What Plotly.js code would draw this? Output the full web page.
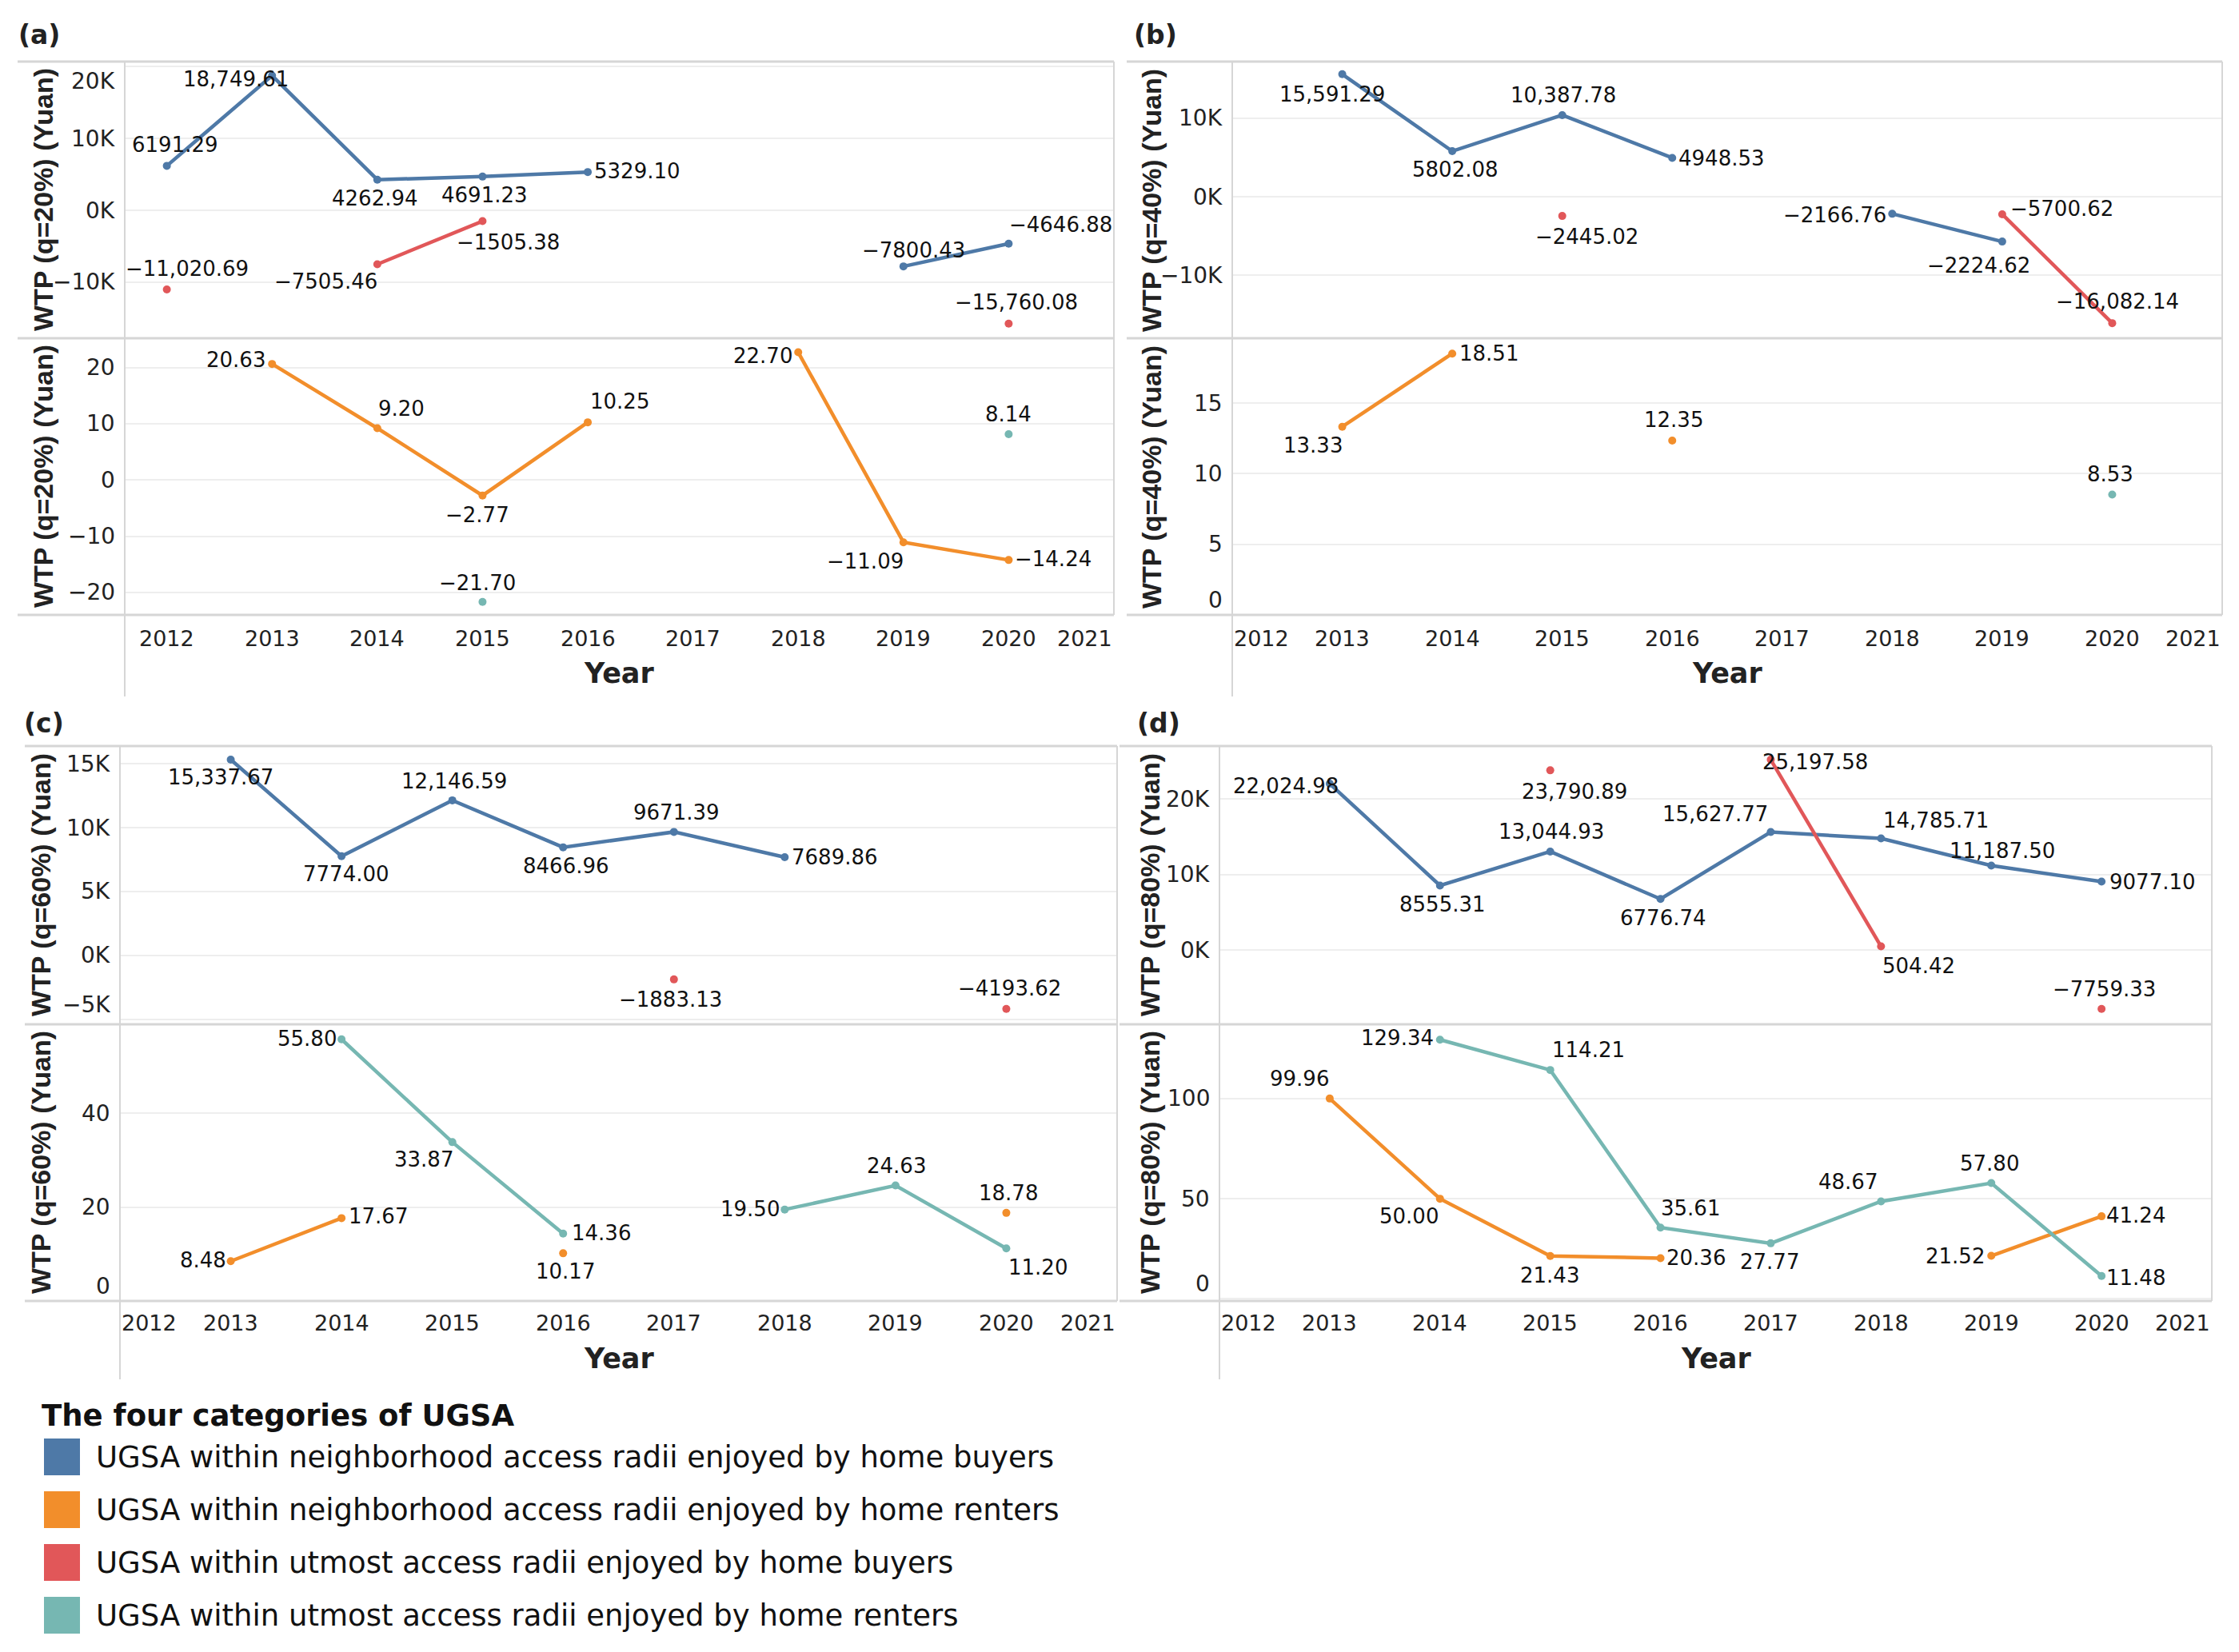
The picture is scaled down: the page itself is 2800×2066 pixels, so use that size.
<!DOCTYPE html>
<html><head><meta charset="utf-8">
<script src="https://cdn.plot.ly/plotly-3.0.1.min.js"></script>
<style>html,body{margin:0;padding:0;background:#fff}#chart{width:2800px;height:2066px}</style>
</head><body><div id="chart"></div>
<script>
// ---------------- DATA ----------------
const years = [2012, 2013, 2014, 2015, 2016, 2017, 2018, 2019, 2020];
const xTickYears = [2012, 2013, 2014, 2015, 2016, 2017, 2018, 2019, 2020, 2021];
const xTickLabels = ['2012', '2013', '2014', '2015', '2016', '2017', '2018', '2019', '2020', '2021'];

const seriesNames = [
  'UGSA within neighborhood access radii enjoyed by home buyers',
  'UGSA within neighborhood access radii enjoyed by home renters',
  'UGSA within utmost access radii enjoyed by home buyers',
  'UGSA within utmost access radii enjoyed by home renters'
];
const legendTitle = 'The four categories of UGSA';

// (a) q=20%
const a_nbBuyers  = [6191.29, 18749.61, 4262.94, 4691.23, 5329.10, null, null, -7800.43, -4646.88];
const a_utBuyers  = [-11020.69, null, -7505.46, -1505.38, null, null, null, null, -15760.08];
const a_nbRenters = [null, 20.63, 9.20, -2.77, 10.25, null, 22.70, -11.09, -14.24];
const a_utRenters = [null, null, null, -21.70, null, null, null, null, 8.14];

// (b) q=40%
const b_nbBuyers  = [null, 15591.29, 5802.08, 10387.78, 4948.53, null, -2166.76, -5700.62, null];
const b_nbBuyersLabels = ['', '15,591.29', '5802.08', '10,387.78', '4948.53', '', '\u22122166.76', '\u22122224.62', ''];
const b_utBuyers  = [null, null, null, -2445.02, null, null, null, -2224.62, -16082.14];
const b_utBuyersLabels = ['', '', '', '\u22122445.02', '', '', '', '\u22125700.62', '\u221216,082.14'];
const b_nbRenters = [null, 13.33, 18.51, null, 12.35, null, null, null, null];
const b_utRenters = [null, null, null, null, null, null, null, null, 8.53];

// (c) q=60%
const c_nbBuyers  = [null, 15337.67, 7774.00, 12146.59, 8466.96, 9671.39, 7689.86, null, null];
const c_utBuyers  = [null, null, null, null, null, -1883.13, null, null, -4193.62];
const c_nbRenters = [null, 8.48, 17.67, null, 10.17, null, null, null, 18.78];
const c_utRenters = [null, null, 55.80, 33.87, 14.36, null, 19.50, 24.63, 11.20];

// (d) q=80%
const d_nbBuyers  = [null, 22024.98, 8555.31, 13044.93, 6776.74, 15627.77, 14785.71, 11187.50, 9077.10];
const d_utBuyers  = [null, null, null, 23790.89, null, 25197.58, 504.42, null, -7759.33];
const d_nbRenters = [null, 99.96, 50.00, 21.43, 20.36, null, null, 21.52, 41.24];
const d_utRenters = [null, null, 129.34, 114.21, 35.61, 27.77, 48.67, 57.80, 11.48];

// y tick labels
const a_topTicks = [-10000, 0, 10000, 20000], a_topTickText = ['\u221210K', '0K', '10K', '20K'];
const a_botTicks = [-20, -10, 0, 10, 20], a_botTickText = ['\u221220', '\u221210', '0', '10', '20'];
const b_topTicks = [-10000, 0, 10000], b_topTickText = ['\u221210K', '0K', '10K'];
const b_botTicks = [0, 5, 10, 15], b_botTickText = ['0', '5', '10', '15'];
const c_topTicks = [-5000, 0, 5000, 10000, 15000], c_topTickText = ['\u22125K', '0K', '5K', '10K', '15K'];
const c_botTicks = [0, 20, 40], c_botTickText = ['0', '20', '40'];
const d_topTicks = [0, 10000, 20000], d_topTickText = ['0K', '10K', '20K'];
const d_botTicks = [0, 50, 100], d_botTickText = ['0', '50', '100'];

// ---------------- STYLE: label offsets [dx, dy] in px (label centre relative to its point) ----------------
const _ = null;
const off = {
  a_nbBuyers:  [[10,-26], [-45,4], [-3,23], [3,23], [62,-1], _, _, [13,-20], [65,-24]],
  a_utBuyers:  [[25,-26], _, [-64,22], [32,26], _, _, _, _, [10,-27]],
  a_nbRenters: [_, [-45,-5], [30,-25], [-6,24], [40,-26], _, [-44,4], [-48,24], [56,-1]],
  a_utRenters: [_, _, _, [-6,-24], _, _, _, _, [0,-25]],
  b_nbBuyers:  [_, [-13,25], [4,23], [1,-25], [62,1], _, [-72,2], [-29,30], _],
  b_utBuyers:  [_, _, _, [31,26], _, _, _, [75,-7], [7,-27]],
  b_nbRenters: [_, [-37,23], [46,0], _, [2,-26], _, _, _, _],
  b_utRenters: [_, _, _, _, _, _, _, _, [-2,-25]],
  c_nbBuyers:  [_, [-13,22], [6,22], [2,-24], [4,23], [3,-24], [63,0], _, _],
  c_utBuyers:  [_, _, _, _, _, [-4,25], _, _, [4,-26]],
  c_nbRenters: [_, [-35,-1], [46,-2], _, [3,23], _, _, _, [3,-25]],
  c_utRenters: [_, _, [-43,-1], [-36,22], [48,-1], _, [-43,-1], [1,-25], [40,24]],
  d_nbBuyers:  [_, [-55,3], [3,24], [1,-25], [3,24], [-69,-23], [69,-23], [14,-19], [64,1]],
  d_utBuyers:  [_, _, _, [30,27], _, [56,3], [47,24], _, [3,-25]],
  d_nbRenters: [_, [-38,-25], [-39,22], [-1,24], [44,0], _, _, [-45,0], [43,-1]],
  d_utRenters: [_, _, [-53,-2], [48,-25], [37,-24], [-1,23], [-41,-24], [-2,-25], [43,2]]
};

const COLORS = ['#4e79a7', '#f28e2b', '#e15759', '#76b7b2'];
const FONT = 'DejaVu Sans';
const W = 2800, H = 2066;
const px = x => x / W, py = y => 1 - y / H;

function fmt(v, buyers) {
  if (v === null) return '';
  let s;
  if (buyers && Math.abs(v) >= 10000) {
    s = Math.abs(v).toLocaleString('en-US', {minimumFractionDigits: 2, maximumFractionDigits: 2});
  } else {
    s = Math.abs(v).toFixed(2);
  }
  return (v < 0 ? '\u2212' : '') + s;
}

// panel geometry (pixels)
const panels = [
  {letter: '(a)', q: '20%', xl: 156, xr: 1393, x0: 22, top: 77, mid: 423, bot: 769, vEnd: 871, yTitleX: 54, letterX: 49, letterY: 44, tickY: 798, yearY: 842,
   xRange: [2011.6, 2021.0], topRange: [-17800, 20700], botRange: [-24.0, 25.2],
   topTicks: a_topTicks, topTickText: a_topTickText, botTicks: a_botTicks, botTickText: a_botTickText, botZero: true,
   series: [[a_nbBuyers, null, 0, 'top'], [a_utBuyers, null, 2, 'top'], [a_nbRenters, null, 1, 'bot'], [a_utRenters, null, 3, 'bot']],
   offKeys: ['a_nbBuyers', 'a_utBuyers', 'a_nbRenters', 'a_utRenters']},
  {letter: '(b)', q: '40%', xl: 1541, xr: 2779, x0: 1409, top: 77, mid: 423, bot: 769, vEnd: 871, yTitleX: 1440, letterX: 1445, letterY: 44, tickY: 798, yearY: 842,
   xRange: [2012.0, 2021.0], topRange: [-18000, 17200], botRange: [0, 19.6],
   topTicks: b_topTicks, topTickText: b_topTickText, botTicks: b_botTicks, botTickText: b_botTickText, botZero: false,
   series: [[b_nbBuyers, b_nbBuyersLabels, 0, 'top'], [b_utBuyers, b_utBuyersLabels, 2, 'top'], [b_nbRenters, null, 1, 'bot'], [b_utRenters, null, 3, 'bot']],
   offKeys: ['b_nbBuyers', 'b_utBuyers', 'b_nbRenters', 'b_utRenters']},
  {letter: '(c)', q: '60%', xl: 150, xr: 1397, x0: 31, top: 933, mid: 1281, bot: 1627, vEnd: 1725, yTitleX: 51, letterX: 55, letterY: 904, tickY: 1654, yearY: 1699,
   xRange: [2012.0, 2021.0], topRange: [-5400, 16400], botRange: [0, 59],
   topTicks: c_topTicks, topTickText: c_topTickText, botTicks: c_botTicks, botTickText: c_botTickText, botZero: false,
   series: [[c_nbBuyers, null, 0, 'top'], [c_utBuyers, null, 2, 'top'], [c_nbRenters, null, 1, 'bot'], [c_utRenters, null, 3, 'bot']],
   offKeys: ['c_nbBuyers', 'c_utBuyers', 'c_nbRenters', 'c_utRenters']},
  {letter: '(d)', q: '80%', xl: 1525, xr: 2766, x0: 1400, top: 933, mid: 1281, bot: 1627, vEnd: 1725, yTitleX: 1438, letterX: 1449, letterY: 904, tickY: 1654, yearY: 1699,
   xRange: [2012.0, 2021.0], topRange: [-9800, 27000], botRange: [-1, 137],
   topTicks: d_topTicks, topTickText: d_topTickText, botTicks: d_botTicks, botTickText: d_botTickText, botZero: false,
   series: [[d_nbBuyers, null, 0, 'top'], [d_utBuyers, null, 2, 'top'], [d_nbRenters, null, 1, 'bot'], [d_utRenters, null, 3, 'bot']],
   offKeys: ['d_nbBuyers', 'd_utBuyers', 'd_nbRenters', 'd_utRenters']}
];

const traces = [];
const layout = {
  width: W, height: H, margin: {l: 0, r: 0, t: 0, b: 0},
  paper_bgcolor: '#ffffff', plot_bgcolor: '#ffffff',
  showlegend: false, shapes: [], annotations: [],
  font: {family: FONT, color: '#111'}
};
const BORDER = '#d6d6d6';
const GRID = '#eeeeee';
const TICKFONT = {family: FONT, size: 27, color: '#222'};
const LABELFONT = {family: FONT, size: 26, color: '#111'};

function yTickAnnotations(p, yref, ticks, texts, range, y0px, y1px) {
  ticks.forEach((v, j) => {
    const frac = (v - range[0]) / (range[1] - range[0]);
    const pix = y1px - frac * (y1px - y0px);
    let anchor = 'middle';
    if (pix - y0px < 16) anchor = 'top';
    else if (y1px - pix < 16) anchor = 'bottom';
    layout.annotations.push({xref: 'paper', yref: yref, x: px(p.xl - 10), y: v, text: texts[j], showarrow: false,
      xanchor: 'right', yanchor: anchor, font: {family: FONT, size: 28, color: '#222'}});
  });
}

panels.forEach((p, i) => {
  const nTop = 2 * i + 1, nBot = 2 * i + 2;
  const xT = 'x' + nTop, yT = 'y' + nTop, xB = 'x' + nBot, yB = 'y' + nBot;
  const xd = [px(p.xl), px(p.xr)];
  const ydTop = [py(p.mid), py(p.top)], ydBot = [py(p.bot), py(p.mid)];
  const xaxBase = {domain: xd, range: p.xRange, showgrid: false, zeroline: false, showticklabels: false, ticks: '', showline: false, fixedrange: true};
  const yaxBase = {showgrid: true, gridcolor: GRID, gridwidth: 2, zeroline: false, showline: false, ticks: '', showticklabels: false, fixedrange: true};
  layout['xaxis' + nTop] = Object.assign({}, xaxBase, {anchor: yT});
  layout['xaxis' + nBot] = Object.assign({}, xaxBase, {anchor: yB});
  layout['yaxis' + nTop] = Object.assign({}, yaxBase, {domain: ydTop, range: p.topRange, anchor: xT, tickmode: 'array', tickvals: p.topTicks});
  layout['yaxis' + nBot] = Object.assign({}, yaxBase, {domain: ydBot, range: p.botRange, anchor: xB, tickmode: 'array', tickvals: p.botTicks});
  yTickAnnotations(p, yT, p.topTicks, p.topTickText, p.topRange, p.top, p.mid);
  yTickAnnotations(p, yB, p.botTicks, p.botTickText, p.botRange, p.mid, p.bot);

  p.series.forEach((s, k) => {
    const [vals, labels, ci, where] = s;
    const buyers = where === 'top';
    const text = labels ? labels : vals.map(v => fmt(v, buyers));
    const xa = buyers ? xT : xB, ya = buyers ? yT : yB;
    traces.push({
      type: 'scatter', mode: 'lines+markers',
      x: years, y: vals,
      line: {color: COLORS[ci], width: 4.5}, marker: {color: COLORS[ci], size: 10},
      xaxis: xa, yaxis: ya,
      cliponaxis: false, connectgaps: false, name: seriesNames[ci], hoverinfo: 'skip'
    });
    const o = off[p.offKeys[k]];
    vals.forEach((v, j) => {
      if (v === null) return;
      const d = o[j] || [0, -25];
      layout.annotations.push({xref: xa, yref: ya, x: years[j], y: v, text: text[j], showarrow: false,
        xanchor: 'center', yanchor: 'middle', xshift: d[0], yshift: -d[1], font: LABELFONT});
    });
  });

  // dotted zero lines
  layout.shapes.push({type: 'line', xref: xT + ' domain', yref: yT, x0: 0, x1: 1, y0: 0, y1: 0, line: {color: '#9a9a9a', width: 1.5, dash: 'dot'}, layer: 'below'});
  if (p.botZero) layout.shapes.push({type: 'line', xref: xB + ' domain', yref: yB, x0: 0, x1: 1, y0: 0, y1: 0, line: {color: '#9a9a9a', width: 1.5, dash: 'dot'}, layer: 'below'});

  // borders
  [p.top, p.mid, p.bot].forEach(yy => layout.shapes.push({type: 'line', xref: 'paper', yref: 'paper', x0: px(p.x0), x1: px(p.xr), y0: py(yy), y1: py(yy), line: {color: BORDER, width: 3}}));
  layout.shapes.push({type: 'line', xref: 'paper', yref: 'paper', x0: px(p.xl), x1: px(p.xl), y0: py(p.top), y1: py(p.vEnd), line: {color: BORDER, width: 2}});
  layout.shapes.push({type: 'line', xref: 'paper', yref: 'paper', x0: px(p.xr), x1: px(p.xr), y0: py(p.top), y1: py(p.bot), line: {color: BORDER, width: 2}});

  // x tick labels
  xTickYears.forEach((yr, j) => {
    if (yr < p.xRange[0] - 1e-9 || yr > p.xRange[1] + 1e-9) return;
    let anchor = 'center';
    if (Math.abs(yr - p.xRange[0]) < 0.05) anchor = 'left';
    if (Math.abs(yr - p.xRange[1]) < 0.05) anchor = 'right';
    layout.annotations.push({xref: xB, yref: 'paper', x: yr, y: py(p.tickY), text: xTickLabels[j], showarrow: false,
      xanchor: anchor, yanchor: 'middle', font: TICKFONT});
  });
  // axis title "Year"
  layout.annotations.push({xref: 'paper', yref: 'paper', x: (px(p.xl) + px(p.xr)) / 2, y: py(p.yearY), text: '<b>Year</b>', showarrow: false,
    xanchor: 'center', yanchor: 'middle', font: {family: FONT, size: 35, color: '#222'}});
  // y titles
  const yTitle = 'WTP (q=' + p.q + ') (Yuan)';
  [[p.top, p.mid], [p.mid, p.bot]].forEach(([a, b]) => {
    layout.annotations.push({xref: 'paper', yref: 'paper', x: px(p.yTitleX), y: py((a + b) / 2), text: '<b>' + yTitle + '</b>', textangle: -90,
      showarrow: false, xanchor: 'center', yanchor: 'middle', font: {family: 'Liberation Sans', size: 34, color: '#222'}});
  });
  // panel letter
  layout.annotations.push({xref: 'paper', yref: 'paper', x: px(p.letterX), y: py(p.letterY), text: '<b>' + p.letter + '</b>', showarrow: false,
    xanchor: 'center', yanchor: 'middle', font: {family: FONT, size: 33, color: '#222'}});
});

// legend
layout.annotations.push({xref: 'paper', yref: 'paper', x: px(50), y: py(1770), text: '<b>' + legendTitle + '</b>', showarrow: false,
  xanchor: 'left', yanchor: 'middle', font: {family: FONT, size: 37, color: '#111'}});
const legendY = [1822, 1888, 1954, 2020];
seriesNames.forEach((nm, i) => {
  layout.shapes.push({type: 'rect', xref: 'paper', yref: 'paper', x0: px(55), x1: px(100), y0: py(legendY[i] - 23), y1: py(legendY[i] + 23),
    fillcolor: COLORS[i], line: {width: 0}});
  layout.annotations.push({xref: 'paper', yref: 'paper', x: px(118), y: py(legendY[i]), text: nm, showarrow: false,
    xanchor: 'left', yanchor: 'middle', font: {family: FONT, size: 37, color: '#111'}});
});

Plotly.newPlot('chart', traces, layout, {staticPlot: true, displayModeBar: false});
</script>
</body></html>
